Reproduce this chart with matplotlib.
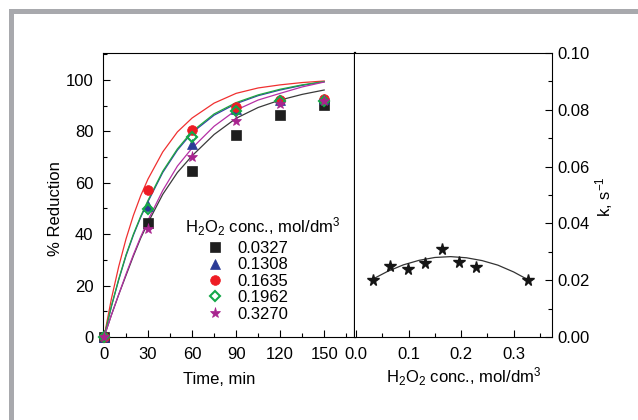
import numpy as np
import matplotlib
matplotlib.use("Agg")
import matplotlib.pyplot as plt
from matplotlib.patches import Rectangle
from matplotlib.ticker import MultipleLocator, FormatStrFormatter

plt.rcParams['font.family'] = ['Liberation Sans', 'DejaVu Sans']
plt.rcParams['mathtext.fontset'] = 'custom'
plt.rcParams['mathtext.rm'] = 'Liberation Sans'
plt.rcParams['mathtext.it'] = 'Liberation Sans:italic'

# === DATA ===
time = [0, 30, 60, 90, 120, 150]
conc_labels = ["0.0327", "0.1308", "0.1635", "0.1962", "0.3270"]
red_0327 = [0, 44.5, 64.7, 78.5, 86.3, 90.2]
red_1308 = [0, 51.1, 75.1, 88.6, 92.2, 92.6]
red_1635 = [0, 57.3, 80.4, 89.6, 92.3, 92.7]
red_1962 = [0, 49.7, 77.7, 88.0, 92.0, 92.0]
red_3270 = [0, 42.1, 70.2, 84.2, 90.7, 92.0]

# fitted curves
fit_time = [0, 5, 10, 15, 20, 25, 30, 40, 50, 60, 75, 90, 105, 120, 135, 150]
fit_0327 = [0, 8.5, 16.5, 24.0, 31.5, 38.5, 44.5, 55.5, 64.0, 70.5, 78.8, 85.1, 89.3, 92.2, 94.4, 96.1]
fit_1308 = [0, 11.8, 22.2, 31.6, 39.6, 46.6, 52.7, 64.0, 72.7, 79.5, 86.3, 90.8, 93.9, 96.1, 97.9, 99.3]
fit_1635 = [0, 14.8, 27.4, 38.2, 47.3, 55.0, 61.5, 72.0, 79.8, 85.2, 91.0, 94.8, 96.9, 98.1, 99.0, 99.6]
fit_1962 = [0, 12.0, 22.5, 32.0, 40.0, 47.0, 53.2, 64.5, 73.2, 80.0, 86.8, 91.2, 94.2, 96.4, 98.1, 99.4]
fit_3270 = [0, 8.5, 16.5, 24.5, 32.0, 39.0, 45.5, 57.0, 66.5, 73.5, 82.0, 88.3, 92.2, 94.8, 97.3, 99.2]

# rate constant vs H2O2 conc.
h2o2 = [0.0327, 0.0654, 0.0981, 0.1308, 0.1635, 0.1962, 0.2289, 0.3270]
k_rate = [0.0201, 0.0250, 0.0238, 0.0260, 0.0310, 0.0265, 0.0245, 0.0201]
k_fit_x = [0.033, 0.06, 0.09, 0.12, 0.15, 0.18, 0.21, 0.24, 0.27, 0.30, 0.327]
k_fit_y = [0.0205, 0.0231, 0.0254, 0.0270, 0.0280, 0.0283, 0.0279, 0.0269, 0.0253, 0.0229, 0.0202]

# === STYLE ===
series = [
    (red_0327, fit_0327, "s", "#1e1e1e", "#1e1e1e", "#3a3a3a", 6.5),
    (red_1308, fit_1308, "^", "#2b3a96", "#2b3a96", "#3040a8", 7),
    (red_1635, fit_1635, "o", "#ee1c24", "#ee1c24", "#f03030", 7),
    (red_1962, fit_1962, "D", "none", "#13a848", "#20a840", 5),
    (red_3270, fit_3270, "*", "#a8248f", "#a8248f", "#b530a5", 8),
]
FS = 12

fig = plt.figure(figsize=(6.38, 4.20), dpi=100)

# gray frame strips
fig.patches.append(Rectangle((9 / 638, 0), 5 / 638, 1 - 9 / 420, transform=fig.transFigure,
                             color="#a8a9ad", lw=0, zorder=0))
fig.patches.append(Rectangle((9 / 638, 1 - 14 / 420), 1, 5 / 420, transform=fig.transFigure,
                             color="#a8a9ad", lw=0, zorder=0))

bot = 1 - 337 / 420
hgt = (337 - 53) / 420
ax1 = fig.add_axes([103 / 638, bot, (355 - 103) / 638, hgt])
ax2 = fig.add_axes([355 / 638, bot, (552 - 355) / 638, hgt])

handles = []
for (pts, fit, mk, fc, ec, lc, ms), lab in zip(series, conc_labels):
    ax1.plot(fit_time, fit, color=lc, lw=0.9, zorder=2)
    h, = ax1.plot(time, pts, linestyle="none", marker=mk, ms=ms, mfc=fc, mec=ec,
                  mew=1.5 if fc == "none" else 0.5, clip_on=False, zorder=3, label=lab)
    handles.append(h)

ax1.set_xlim(-0.7, 171)
ax1.set_ylim(0, 110.5)
ax1.xaxis.set_major_locator(MultipleLocator(30))
ax1.xaxis.set_minor_locator(MultipleLocator(15))
ax1.yaxis.set_major_locator(MultipleLocator(20))
ax1.yaxis.set_minor_locator(MultipleLocator(10))
ax1.tick_params(which="both", direction="in", labelsize=FS, width=0.8)
ax1.tick_params(which="major", length=5)
ax1.tick_params(which="minor", length=3)
ax1.tick_params(axis="x", pad=7.5)
ax1.tick_params(axis="y", pad=7)
for s in ax1.spines.values():
    s.set_linewidth(0.8)
ax1.spines["right"].set_linewidth(1.6)

leg = ax1.legend(handles=handles, frameon=False, loc="upper left",
                 bbox_to_anchor=(207 / 638, 1 - 241 / 420), bbox_transform=fig.transFigure,
                 fontsize=FS, handlelength=1.0, handletextpad=0.84, labelspacing=0.085,
                 borderpad=0, borderaxespad=0)
fig.text(185 / 638, 1 - 227 / 420, "H$_2$O$_2$ conc., mol/dm$^3$", ha="left", va="center", fontsize=FS)

ax2.plot(k_fit_x, k_fit_y, color="#333333", lw=0.9, zorder=2)
ax2.plot(h2o2, k_rate, linestyle="none", marker="*", ms=8.5, color="#151515", zorder=3)
ax2.set_xlim(-0.002, 0.373)
ax2.set_ylim(0, 0.10)
ax2.xaxis.set_major_locator(MultipleLocator(0.1))
ax2.xaxis.set_minor_locator(MultipleLocator(0.05))
ax2.yaxis.set_major_locator(MultipleLocator(0.02))
ax2.yaxis.set_minor_locator(MultipleLocator(0.01))
ax2.yaxis.tick_right()
ax2.tick_params(which="both", direction="in", labelsize=FS, width=0.8, left=False)
ax2.tick_params(which="major", length=5)
ax2.tick_params(which="minor", length=3)
ax2.tick_params(axis="x", pad=7.5)
ax2.tick_params(axis="y", pad=4)
ax2.xaxis.set_major_formatter(FormatStrFormatter("%.1f"))
ax2.yaxis.set_major_formatter(FormatStrFormatter("%.2f"))
for s in ax2.spines.values():
    s.set_linewidth(0.8)
ax2.spines["left"].set_visible(False)

fig.text(55 / 638, 1 - 209 / 420, "% Reduction", rotation=90, ha="center", va="center", fontsize=FS)
fig.text(219 / 638, 1 - 379 / 420, "Time, min", ha="center", va="center", fontsize=FS)
fig.text(464 / 638, 1 - 377 / 420, "H$_2$O$_2$ conc., mol/dm$^3$", ha="center", va="center", fontsize=FS)
fig.text(604 / 638, 1 - 197 / 420, "k, s$^{-1}$", rotation=90, ha="center", va="center", fontsize=FS)

fig.savefig("out.png", dpi=100)
